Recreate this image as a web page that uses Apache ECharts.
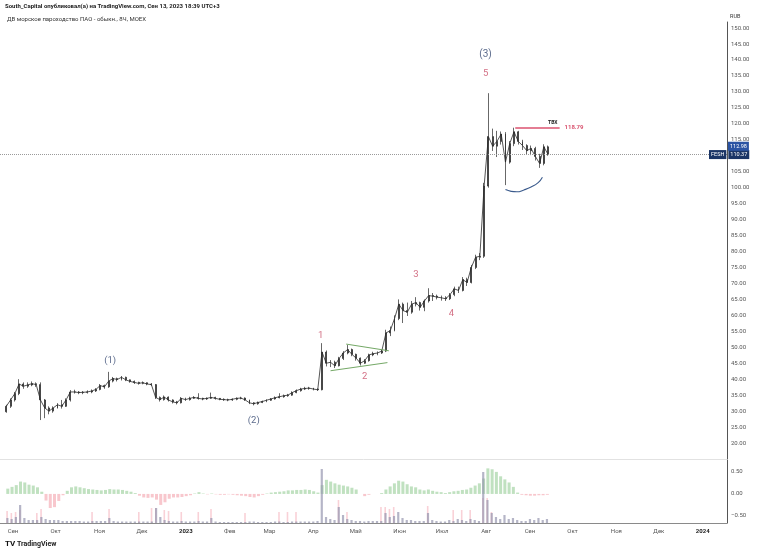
<!DOCTYPE html>
<html><head><meta charset="utf-8">
<script src="https://cdn.jsdelivr.net/npm/echarts@6/dist/echarts.min.js"></script>
<style>html,body{margin:0;padding:0;background:#fff}#c{width:758px;height:553px}</style>
</head><body><div id="c"></div>
<script>
// ---- data ----
const startDate = '2022-08-28';
const stepDays = 3;
// [open, close, low, high]
const ohlc = [
[29.8,31.5,29.5,32],[31.5,33.5,31,34],[33.5,35.5,33,36],[35.5,38.5,35,40],[38.5,37.8,37,39],
[37.8,38.2,37.3,39],[38.2,38.6,37.8,39.3],[38.6,38.3,37.6,39],[38.3,33.5,27.2,39],[33.5,31,27.8,33.8],
[31,30,29,31.5],[30,31,29.5,31.5],[31,32,30.8,32.5],[32,31.5,30.8,33.5],[31.5,33.5,31.3,34],
[33.5,36,33,36.6],[36,36,35.5,36.7],[36,35.8,35.3,36.3],[35.8,35.9,35.3,36.3],[35.9,36,35.5,36.5],
[36,36.3,35.6,36.8],[36.3,36.8,36,37.2],[36.8,38,36.5,38.5],[38,37.6,37,38.3],[37.6,39.4,37.3,42.3],
[39.4,40.2,39,40.7],[40.2,39.9,39.3,40.5],[39.9,40.6,39.6,41],[40.6,39.8,39.4,40.8],[39.8,39.3,38.9,39.9],
[39.3,39,38.5,39.6],[39,38.7,38.3,39.2],[38.7,38.9,38.4,39.3],[38.9,38.5,38.1,39],[38.5,38.3,37.9,38.8],
[38.3,34.3,33.8,38.5],[34.3,33.6,33,34.6],[33.6,34.4,33.3,34.9],[34.4,33.5,33,34.6],[33.5,32.9,32.4,33.7],
[32.9,32.6,32.1,33.2],[32.6,34,32.4,34.4],[34,33.6,33.2,34.2],[33.6,34,33.3,34.5],[34,34.3,33.8,34.7],
[34.3,34,33.6,35.6],[34,33.8,33.4,34.2],[33.8,34,33.5,34.3],[34,34.3,33.8,35.8],[34.3,34,33.6,34.5],
[34,33.7,33.4,34.1],[33.7,33.6,33.2,34],[33.6,33.5,33.1,33.9],[33.5,33.7,33.2,34],[33.7,34,33.4,34.3],
[34,34.1,33.7,34.5],[34.1,33.5,33.2,34.3],[33.5,32.6,32.2,33.6],[32.6,32.3,31.8,32.8],[32.3,32.7,32,33],
[32.7,33,32.5,33.3],[33,33.4,32.8,33.7],[33.4,33.8,33.2,34.1],[33.8,34.2,33.6,34.6],[34.2,34.5,34,35.6],
[34.5,34.8,34.2,35.2],[34.8,35,34.5,35.4],[35,35.8,34.8,36.2],[35.8,36.4,35.6,36.8],[36.4,36.9,36.1,37.3],
[36.9,37.1,36.6,37.6],[37.1,37.2,36.7,37.6],[37.2,36.9,36.5,37.3],[36.9,36.7,36.3,37.1],[36.7,48.5,36.5,51.3],
[48.5,45,44,49],[45,45.3,43.8,46],[45.3,44.2,43.5,45.8],[44.2,46.5,44,47],[46.5,48.2,46,48.8],
[48.2,49.3,47.8,50.7],[49.3,47.8,47.2,49.6],[47.8,46.6,45.8,48],[46.6,45,44.3,46.8],[45,45.8,44.8,46.3],
[45.8,47.6,45.5,48],[47.6,48,47.2,48.6],[48,48.2,47.5,48.7],[48.2,48.8,47.9,49.3],[48.8,54.5,48.5,55.5],
[54.5,55.2,53.5,56.5],[55.2,59,55,60],[59,63.5,58.5,65],[63.5,61.5,57.6,64],[61.5,61,59.8,64],
[61,63.5,60.5,64.5],[63.5,64,62.8,65.7],[64,62.5,61.5,64.3],[62.5,64.5,61.3,65],[64.5,66.2,64,68.5],
[66.2,66,64.5,67],[66,65.7,65,66.5],[65.7,65.5,64.6,66.2],[65.5,65.2,64.5,66],[65.2,66.5,64.8,67],
[66.5,68.3,66,69],[68.3,67.8,67,69],[67.8,71.2,67.5,72],[71.2,70.3,69.2,71.8],[70.3,75,70,75.8],
[75,78.2,74.5,79],[78.2,78.5,77.3,79.5],[78.5,100.5,78,101.5],[100.5,116,100,129.6],[116,113,111.5,118.5],
[113,114.5,109.6,117.8],[114.5,116.8,113.5,117.6],[116.8,108,100.8,117.4],[108,113.8,107.5,114.6],[113.8,117.5,113,118.79],
[117.5,114.5,113.5,117.8],[114.5,113.2,111.8,115],[113.2,111.6,110.5,113.6],[111.6,112.3,110.2,113.2],[112.3,109.8,108.5,112.8],
[109.8,107.6,106.2,110.6],[107.6,112.8,107,113.6],[112.8,110.37,110,113.2]
];
const volume = [
5,4,6,18,5,3,3,3,6,4,
3,3,3,2,2,2,2,2,1.5,1.5,
2,2,2,2,5,2,1.5,1.5,1.5,1.5,
1.5,1.5,1.5,1.5,1.5,15,6,3,2,1.5,
1.5,2,1.5,1.5,1.5,2,1.5,1.5,5,1.5,
1,1,1,1,1,1,1,1.5,1.5,1,
1,1,1,1.5,1.5,1,1,1.5,1.5,1.5,
1.5,1.5,1.5,2,54,6,4,3,16,8,
4,3,2,2,1.5,2,2,2,2,10,
6,7,11,5,3,3,2,2,2,10,
3,2,1.5,1.5,3,2,4,3,2,4,
3,2,51,23,10,6,4,8,4,5,
3,2,2,4,3,5,3,4
];
const sellVolume = [
12,10,11,13,0,0,0,10,14,0,
0,0,0,0,0,0,0,0,0,0,
11,0,0,0,14,0,0,0,0,0,
0,11,0,0,15,15,0,13,12,0,
0,11,0,0,0,11,0,0,14,0,
0,0,0,0,0,0,10,0,0,0,
0,0,0,0,11,0,11,0,11,0,
0,0,0,0,0,0,0,0,23,0,
11,0,0,0,0,0,0,0,16,16,
14,16,0,0,0,0,0,0,0,17,
0,0,0,0,0,13,0,13,0,13,
0,0,25,25,11,0,0,0,0,0,
0,0,0,0,0,0,0,0
];
const oscillator = [
0.12,0.16,0.2,0.28,0.26,0.21,0.19,0.15,0.05,-0.15,
-0.32,-0.3,-0.16,-0.03,0.07,0.15,0.17,0.15,0.13,0.11,
0.1,0.09,0.08,0.09,0.11,0.1,0.1,0.09,0.07,0.05,
0.02,-0.04,-0.08,-0.09,-0.08,-0.13,-0.25,-0.19,-0.11,-0.08,
-0.08,-0.07,-0.05,-0.03,0.01,0.04,0.01,-0.01,0.01,-0.01,
-0.02,-0.02,-0.01,-0.02,-0.03,-0.04,-0.05,-0.07,-0.08,-0.05,
-0.02,0.01,0.03,0.04,0.05,0.06,0.08,0.08,0.09,0.09,
0.1,0.09,0.06,0.03,0.2,0.32,0.28,0.24,0.21,0.19,
0.17,0.14,0.1,0,-0.05,-0.02,0,0,0.02,0.1,
0.17,0.24,0.3,0.28,0.22,0.17,0.15,0.1,0.08,0.1,
0.07,0.05,0.04,0.02,0.04,0.06,0.07,0.09,0.1,0.14,
0.19,0.24,0.35,0.58,0.56,0.5,0.4,0.33,0.26,0.16,
0.03,-0.02,-0.03,-0.04,-0.04,-0.03,-0.03,-0.02
];
const monthNames = ['Янв','Фев','Мар','Апр','Май','Июн','Июл','Авг','Сен','Окт','Ноя','Дек'];
const oscTicks = [-0.5, 0, 0.5];
const lastPrice = 110.37;
const markPrice = 112.98;
const levelPrice = 118.79;
const levelDates = ['2023-08-21', '2023-09-21'];
const waveText  = ['(1)', '(2)', '(3)', '5', '1', '2', '3', '4'];
const waveDate  = ['2022-11-09', '2023-02-18', '2023-07-31', '2023-07-31', '2023-04-06', '2023-05-07', '2023-06-12', '2023-07-07'];
const wavePrice = [45.8, 26.9, 141.6, 135.6, 53.5, 40.7, 72.9, 60.4];
const triUpperDates = ['2023-04-24', '2023-05-24'];
const triUpperPrices = [51.0, 48.9];
const triLowerDates = ['2023-04-13', '2023-05-23'];
const triLowerPrices = [42.65, 45.2];
const arcDates = ['2023-08-14', '2023-08-18', '2023-08-22', '2023-08-27', '2023-09-01', '2023-09-06', '2023-09-09'];
const arcPrices = [99.4, 98.85, 98.7, 99.3, 100.2, 101.6, 103.3];

// ---- build ----
const DAY = 86400000;
const d = s => Date.parse(s);
const dates = ohlc.map((_, i) => d(startDate) + i * stepDays * DAY);
const candleData = ohlc.map((r, i) => [dates[i], r[0], r[1], r[2], r[3]]);
const closeLine = ohlc.map((r, i) => [dates[i], r[1]]);
const xMin = Date.UTC(2022, 7, 23, 13, 30);
const xMax = Date.UTC(2024, 0, 16, 19, 0);
const FONT = 'Roboto';
const navy = '#33466f', pink = '#c84c66';
const CLEAR = 'rgba(0,0,0,0)';

const xBase = {
  type: 'time', min: xMin, max: xMax,
  minInterval: 28 * DAY, maxInterval: 31 * DAY,
  splitLine: { show: false }, axisTick: { show: false }
};

const option = {
  animation: false,
  useUTC: true,
  backgroundColor: '#fff',
  textStyle: { fontFamily: FONT },
  title: [
    { text: 'South_Capital опубликовал(а) на TradingView.com, Сен 13, 2023 18:39 UTC+3', left: 5, top: 3, padding: 0,
      textStyle: { fontSize: 6, fontWeight: 'bold', color: '#222', fontFamily: FONT } },
    { text: 'ДВ морское пароходство ПАО - обыкн., 8Ч, MOEX', left: 7, top: 16, padding: 0,
      textStyle: { fontSize: 6, fontWeight: 'normal', color: '#333', fontFamily: FONT } },
    { text: '{l|TV} TradingView', left: 5, top: 540, padding: 0,
      textStyle: { fontSize: 7, color: '#222', fontFamily: FONT,
        rich: { l: { fontSize: 8, fontWeight: 'bold', color: '#111', fontFamily: FONT } } } }
  ],
  grid: [
    { left: 0, right: 31, top: 22, bottom: 94 },
    { left: 0, right: 31, top: 460, bottom: 30 }
  ],
  xAxis: [
    Object.assign({}, xBase, { gridIndex: 0, axisLabel: { show: false },
      axisLine: { show: true, onZero: false, lineStyle: { color: '#e2e2e2', width: 1 } } }),
    Object.assign({}, xBase, { gridIndex: 1,
      axisLine: { show: true, onZero: false, lineStyle: { color: '#8a8a8a', width: 1 } },
      axisLabel: { fontSize: 6, color: '#555', margin: 5, fontFamily: FONT,
        formatter: v => { const t = new Date(v); return t.getUTCMonth() === 0 ? '{y|' + t.getUTCFullYear() + '}' : monthNames[t.getUTCMonth()]; },
        rich: { y: { fontSize: 6, fontWeight: 'bold', color: '#222', fontFamily: FONT } } } })
  ],
  yAxis: [
    { type: 'value', gridIndex: 0, position: 'right', min: 15, max: 151.9, interval: 5,
      name: 'RUB', nameLocation: 'end', nameGap: 1,
      nameTextStyle: { fontSize: 5.5, color: '#333', align: 'left', padding: [1, 3, 1, 3], fontFamily: FONT },
      axisLine: { show: true, lineStyle: { color: '#555', width: 1 } },
      axisTick: { show: false }, splitLine: { show: false },
      axisLabel: { fontSize: 6, color: '#555', margin: 4, fontFamily: FONT, showMaxLabel: false,
        formatter: v => (v < 20 || v > 150) ? '' : v.toFixed(2) } },
    { type: 'value', gridIndex: 1, position: 'right', min: -0.66, max: 0.77,
      axisLine: { show: true, lineStyle: { color: '#555', width: 1 } },
      axisTick: { show: false }, splitLine: { show: false },
      axisLabel: { fontSize: 6, color: '#555', margin: 4, fontFamily: FONT, customValues: oscTicks,
        formatter: v => (v < 0 ? '\u2212' : '') + Math.abs(v).toFixed(2) } },
    { type: 'value', gridIndex: 1, min: 0, max: 63, show: false }
  ],
  series: [
    { type: 'line', xAxisIndex: 0, yAxisIndex: 0, symbol: 'none', silent: true,
      data: closeLine, lineStyle: { color: '#2a2a2a', width: 0.8 } },
    { type: 'candlestick', name: 'FESH', xAxisIndex: 0, yAxisIndex: 0,
      dimensions: ['date', 'open', 'close', 'lowest', 'highest'],
      encode: { x: 0, y: [1, 2, 3, 4] },
      data: candleData, barWidth: 1.4,
      itemStyle: { color: '#262626', color0: '#262626', borderColor: '#262626', borderColor0: '#262626', borderWidth: 0.7 },
      markLine: {
        symbol: ['none', 'none'], silent: true, animation: false,
        label: { show: false },
        data: [
          { yAxis: lastPrice, lineStyle: { type: 'dotted', color: '#9a9a9a', width: 1 },
            label: { show: true, position: 'end', distance: -18,
              formatter: '{f|FESH}{s|}{v|' + lastPrice.toFixed(2) + '}',
              rich: {
                f: { backgroundColor: '#1b3566', color: '#fff', fontSize: 5.5, padding: [2, 2, 1, 2], fontFamily: FONT },
                s: { width: 2 },
                v: { backgroundColor: '#1b3566', color: '#fff', fontSize: 5.5, padding: [2, 2, 1, 2], fontFamily: FONT }
              } } },
          { yAxis: markPrice, lineStyle: { color: CLEAR, width: 1 },
            label: { show: true, position: 'end', distance: 1, formatter: markPrice.toFixed(2),
              backgroundColor: '#2a53a3', color: '#fff', fontSize: 5.5, padding: [2, 2, 1, 2], fontFamily: FONT } },
          [ { coord: [d(levelDates[0]), levelPrice], lineStyle: { color: '#e2758c', width: 1.5, type: 'solid' },
              label: { show: true, position: 'end', distance: 5, formatter: levelPrice.toFixed(2),
                color: '#d9536f', fontSize: 6, fontWeight: 'bold', fontFamily: FONT } },
            { coord: [d(levelDates[1]), levelPrice] } ],
          [ { coord: [d(levelDates[0]), levelPrice], lineStyle: { color: '#e2758c', width: 1.5, type: 'solid' },
              label: { show: true, position: 'insideEndTop', distance: 2, formatter: 'TBX',
                color: '#222', fontSize: 5, fontWeight: 'bold', fontFamily: FONT } },
            { coord: [d(levelDates[1]), levelPrice] } ]
        ]
      } },
    { type: 'line', xAxisIndex: 0, yAxisIndex: 0, symbol: 'none', silent: true,
      data: triUpperDates.map((t, i) => [d(t), triUpperPrices[i]]),
      lineStyle: { color: '#74a866', width: 1 } },
    { type: 'line', xAxisIndex: 0, yAxisIndex: 0, symbol: 'none', silent: true,
      data: triLowerDates.map((t, i) => [d(t), triLowerPrices[i]]),
      lineStyle: { color: '#74a866', width: 1 } },
    { type: 'line', xAxisIndex: 0, yAxisIndex: 0, symbol: 'none', smooth: true, silent: true,
      data: arcDates.map((t, i) => [d(t), arcPrices[i]]),
      lineStyle: { color: '#3a5a8c', width: 1.1 } },
    { type: 'scatter', xAxisIndex: 0, yAxisIndex: 0, symbolSize: 2, silent: true,
      itemStyle: { color: CLEAR },
      data: waveText.map((t, i) => ({ name: t, value: [d(waveDate[i]), wavePrice[i]],
        label: { color: t.charAt(0) === '(' ? navy : pink, fontSize: t === '(3)' ? 10 : 9.5 } })),
      label: { show: true, position: 'inside', formatter: p => p.name, fontFamily: FONT } },
    { type: 'bar', xAxisIndex: 1, yAxisIndex: 1, barWidth: 3, silent: true,
      data: oscillator.map((v, i) => [dates[i], v]),
      itemStyle: { color: p => p.value[1] >= 0 ? 'rgba(130,195,130,0.5)' : 'rgba(240,130,145,0.45)' } },
    { type: 'bar', xAxisIndex: 1, yAxisIndex: 2, barWidth: 1.6, silent: true, barGap: '-100%',
      data: sellVolume.map((v, i) => [dates[i], v]),
      itemStyle: { color: 'rgba(240,140,155,0.4)' } },
    { type: 'bar', xAxisIndex: 1, yAxisIndex: 2, barWidth: 2.2, silent: true, barGap: '-100%',
      data: volume.map((v, i) => [dates[i], v]),
      itemStyle: { color: 'rgba(150,150,175,0.7)' } }
  ]
};
echarts.init(document.getElementById('c')).setOption(option);
</script></body></html>
